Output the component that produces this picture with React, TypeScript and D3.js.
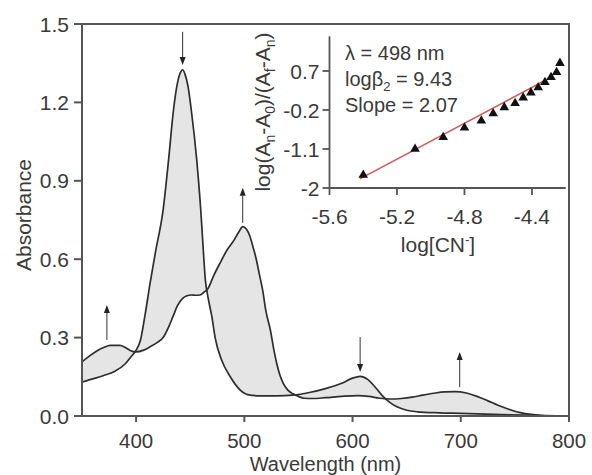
import React from "react";
import * as d3 from "d3";

// ---------- Main spectra ----------
const WAVE_INITIAL = [350,360,370,380,390,395,400,404,408,413,418,425,430,434.5,438,441,443,445,448,451,456,459.7,462,464,466.4,470,473,479,487,496,503,515,530,545,560,575,590,600,607,614,620,627,635,641,650,660,680,700,730,760,800];
const ABS_INITIAL = [0.13,0.142,0.155,0.17,0.2,0.225,0.252,0.29,0.38,0.51,0.63,0.79,0.98,1.17,1.27,1.315,1.325,1.31,1.26,1.17,0.98,0.79,0.64,0.52,0.455,0.38,0.3,0.214,0.15,0.1,0.082,0.077,0.077,0.08,0.09,0.105,0.125,0.145,0.152,0.14,0.115,0.08,0.05,0.035,0.022,0.016,0.012,0.01,0.006,0.003,0];

const WAVE_FINAL = [350,357,364,370,376,385,390,394,400,407,413,419,425,430,434,438,443,447,451,455,459,463,466,472,477.5,484,490,495,498.5,502,505,508,511,514,517,520,524,527,530,533,536,540,545,550,555,563,575,590,605,615,625,635,645,655,665,675,685,695,705,715,725,735,745,755,765,775,785,800];
const ABS_FINAL = [0.207,0.23,0.25,0.262,0.27,0.27,0.262,0.252,0.245,0.252,0.265,0.28,0.3,0.34,0.38,0.42,0.45,0.46,0.463,0.462,0.463,0.475,0.485,0.54,0.585,0.635,0.67,0.705,0.725,0.715,0.69,0.647,0.6,0.54,0.48,0.4,0.33,0.26,0.2,0.155,0.125,0.1,0.085,0.075,0.068,0.067,0.07,0.075,0.078,0.075,0.068,0.065,0.067,0.072,0.08,0.087,0.092,0.093,0.088,0.075,0.058,0.04,0.025,0.013,0.006,0.002,0,0];

// arrows: wavelength, start absorbance (tail), end absorbance (tip)
const ARROW_WAVE = [373, 443, 498.5, 607, 699];
const ARROW_FROM = [0.291, 1.47, 0.739, 0.302, 0.111];
const ARROW_TO = [0.425, 1.343, 0.873, 0.168, 0.245];

const X_TICKS = [400, 500, 600, 700, 800];
const Y_TICKS = [0.0, 0.3, 0.6, 0.9, 1.2, 1.5];

// ---------- Inset ----------
const LOG_CN = [-5.40,-5.093,-4.926,-4.80,-4.70,-4.63,-4.564,-4.50,-4.452,-4.406,-4.363,-4.323,-4.287,-4.254,-4.234];
const LOG_RATIO = [-1.70,-1.10,-0.83,-0.61,-0.45,-0.28,-0.14,-0.045,0.085,0.20,0.32,0.44,0.555,0.67,0.88];
const FIT_SLOPE = 2.07;
const FIT_INTERCEPT = 9.43;
const FIT_RANGE = [-5.42, -4.29];
const INSET_X_TICKS = [-5.6, -5.2, -4.8, -4.4];
const INSET_Y_TICKS = [-2, -1.1, -0.2, 0.7];

const FONT = "'Liberation Sans', Arial, Helvetica, sans-serif";
const TXT = "#3a3a3a";
const AX = "#555";

export default function App() {
  const W = 592, H = 475;
  const x = d3.scaleLinear().domain([350, 800]).range([82, 569]);
  const y = d3.scaleLinear().domain([0, 1.5]).range([416, 24]);

  const ix = d3.scaleLinear().domain([-5.6, -4.2]).range([329.5, 565.7]);
  const iy = d3.scaleLinear().domain([-2, 1.5]).range([188, 36.3]);

  const initial = WAVE_INITIAL.map((w, i) => [w, ABS_INITIAL[i]] as [number, number]);
  const final = WAVE_FINAL.map((w, i) => [w, ABS_FINAL[i]] as [number, number]);

  const line = d3
    .line<[number, number]>()
    .x((d) => x(d[0]))
    .y((d) => y(d[1]))
    .curve(d3.curveMonotoneX);

  const pInit = line(initial) || "";
  const pFinal = line(final) || "";
  const pFinalRev = (line([...final].reverse()) || "").replace(/^M/, "L");
  const areaPath = pInit + pFinalRev + "Z";

  const tri = d3.symbol().type(d3.symbolTriangle).size(40)() || "";

  const fitY = (v: number) => FIT_SLOPE * v + FIT_INTERCEPT;

  return (
    <svg
      width={W}
      height={H}
      style={{ position: "absolute", left: 0, top: 0, background: "#fff" }}
      fontFamily={FONT}
    >
      <rect x={0} y={0} width={W} height={H} fill="#fff" />

      {/* fill between spectra */}
      <path d={areaPath} fill="#e5e5e5" fillRule="nonzero" stroke="none" />
      <path d={pInit} fill="none" stroke="#2e2e2e" strokeWidth={1.7} />
      <path d={pFinal} fill="none" stroke="#2e2e2e" strokeWidth={1.7} />

      {/* arrows */}
      {ARROW_WAVE.map((w, i) => {
        const ax = x(w);
        const y0 = y(ARROW_FROM[i]);
        const y1 = y(ARROW_TO[i]);
        const dir = y1 < y0 ? -1 : 1; // -1 up
        const hb = y1 - dir * 8;
        return (
          <g key={"ar" + i}>
            <line x1={ax} y1={y0} x2={ax} y2={hb} stroke="#333" strokeWidth={1} />
            <path d={`M${ax},${y1}L${ax - 3},${hb}L${ax + 3},${hb}Z`} fill="#222" />
          </g>
        );
      })}

      {/* main frame */}
      <rect x={82} y={24} width={569 - 82} height={416 - 24} fill="none" stroke={AX} strokeWidth={2} />

      {/* y ticks */}
      {Y_TICKS.map((t) => (
        <g key={"yt" + t}>
          <line x1={74} x2={82} y1={y(t)} y2={y(t)} stroke={AX} strokeWidth={2} />
          <text x={69} y={y(t)} dy="0.36em" textAnchor="end" fontSize={21} fill={TXT}>
            {t.toFixed(1)}
          </text>
        </g>
      ))}
      {/* x ticks */}
      {X_TICKS.map((t) => (
        <g key={"xt" + t}>
          <line x1={x(t)} x2={x(t)} y1={416} y2={422} stroke={AX} strokeWidth={2} />
          <text x={x(t)} y={448} textAnchor="middle" fontSize={20.5} fill={TXT}>
            {t}
          </text>
        </g>
      ))}
      <text x={325.5} y={470.5} textAnchor="middle" fontSize={20} fill={TXT}>
        Wavelength (nm)
      </text>
      <text
        transform={`translate(31,215) rotate(-90)`}
        textAnchor="middle"
        fontSize={21}
        fill={TXT}
      >
        Absorbance
      </text>

      {/* ---------- inset ---------- */}
      <line x1={ix(-5.6)} x2={ix(-5.6)} y1={iy(1.5)} y2={iy(-2)} stroke={AX} strokeWidth={1.8} />
      <line x1={ix(-5.6)} x2={ix(-4.2)} y1={iy(-2)} y2={iy(-2)} stroke={AX} strokeWidth={1.8} />
      {INSET_Y_TICKS.map((t) => (
        <g key={"iyt" + t}>
          <line x1={ix(-5.6) - 7} x2={ix(-5.6)} y1={iy(t)} y2={iy(t)} stroke={AX} strokeWidth={1.8} />
          <text x={ix(-5.6) - 10} y={iy(t)} dy="0.36em" textAnchor="end" fontSize={21} fill={TXT}>
            {t}
          </text>
        </g>
      ))}
      {INSET_X_TICKS.map((t) => (
        <g key={"ixt" + t}>
          <line x1={ix(t)} x2={ix(t)} y1={iy(-2)} y2={iy(-2) + 7} stroke={AX} strokeWidth={1.8} />
          <text x={ix(t)} y={224} textAnchor="middle" fontSize={21} fill={TXT}>
            {t.toFixed(1)}
          </text>
        </g>
      ))}
      <text x={438} y={252} textAnchor="middle" fontSize={21} fill={TXT}>
        log[CN
        <tspan dy={-8} fontSize={13}>-</tspan>
        <tspan dy={8}>]</tspan>
      </text>
      <text
        transform={`translate(270,112) rotate(-90)`}
        textAnchor="middle"
        fontSize={21}
        fill={TXT}
      >
        log(A<tspan dy={5} fontSize={14}>n</tspan>
        <tspan dy={-5}>-A</tspan>
        <tspan dy={5} fontSize={14}>0</tspan>
        <tspan dy={-5}>)/(A</tspan>
        <tspan dy={5} fontSize={14}>f</tspan>
        <tspan dy={-5}>-A</tspan>
        <tspan dy={5} fontSize={14}>n</tspan>
        <tspan dy={-5}>)</tspan>
      </text>

      {/* fit line */}
      <line
        x1={ix(FIT_RANGE[0])}
        y1={iy(fitY(FIT_RANGE[0]))}
        x2={ix(FIT_RANGE[1])}
        y2={iy(fitY(FIT_RANGE[1]))}
        stroke="#d05a5a"
        strokeWidth={1.6}
      />
      {LOG_CN.map((v, i) => (
        <path key={"pt" + i} d={tri} transform={`translate(${ix(v)},${iy(LOG_RATIO[i])})`} fill="#111" />
      ))}

      {/* inset annotation */}
      <text x={345} y={60} fontSize={20} fill={TXT}>λ = 498 nm</text>
      <text x={345} y={86} fontSize={20} fill={TXT}>
        logβ<tspan dy={5} fontSize={13}>2</tspan>
        <tspan dy={-5}> = 9.43</tspan>
      </text>
      <text x={345} y={112} fontSize={20} fill={TXT}>Slope = 2.07</text>
    </svg>
  );
}
